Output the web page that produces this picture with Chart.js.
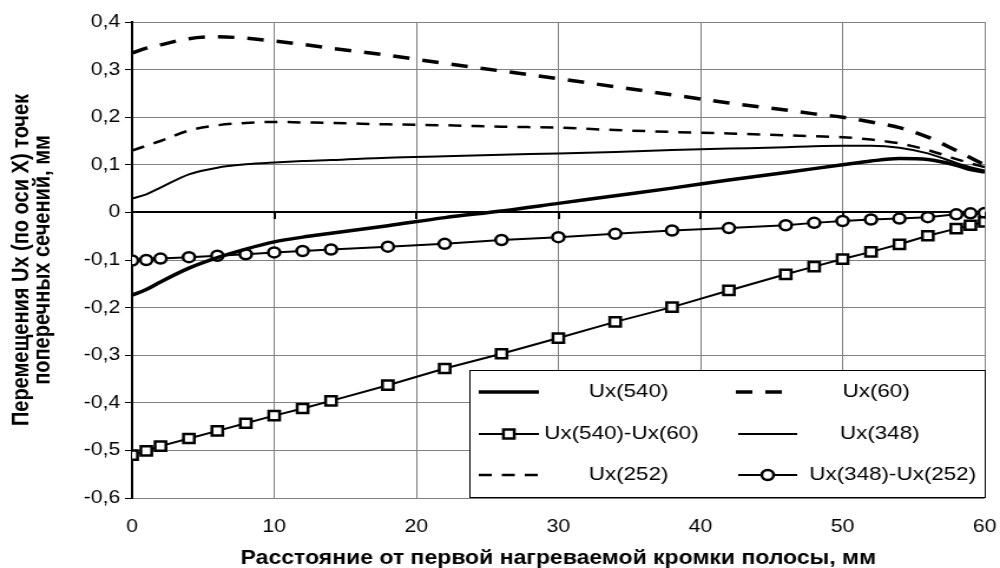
<!DOCTYPE html>
<html>
<head>
<meta charset="utf-8">
<title>Перемещения Ux</title>
<script src="https://cdn.jsdelivr.net/npm/chart.js@4.4.1/dist/chart.umd.min.js"></script>
<style>
  html, body { margin: 0; padding: 0; background: #fff; }
  #wrap { width: 1000px; height: 568px; }
  /* the source picture is stretched sideways, so the canvas is drawn narrower and widened */
  #uxChart { width: 1000px; height: 568px; }
</style>
</head>
<body>
<div id="wrap"><canvas id="uxChart" width="848" height="568" style="width:1000px;height:568px"></canvas></div>
<script>
// x positions of the sections, mm
const xPos = [0, 1, 2, 4, 6, 8, 10, 12, 14, 18, 22, 26, 30, 34, 38, 42, 46, 48, 50, 52, 54, 56, 58, 59, 60];

// Ux values, mm
const ux540 = [-0.174, -0.162, -0.146, -0.117, -0.095, -0.077, -0.062, -0.052, -0.044, -0.028, -0.011, 0.003, 0.019,
  0.035, 0.051, 0.068, 0.084, 0.092, 0.100, 0.108, 0.113, 0.111, 0.099, 0.090, 0.085];
const ux60 = [0.335, 0.345, 0.352, 0.365, 0.369, 0.366, 0.360, 0.353, 0.345, 0.330, 0.313, 0.297, 0.281,
  0.264, 0.247, 0.230, 0.215, 0.207, 0.200, 0.190, 0.178, 0.158, 0.130, 0.115, 0.100];
const diff540_60 = [-0.510, -0.501, -0.491, -0.475, -0.459, -0.443, -0.427, -0.412, -0.396, -0.363, -0.328, -0.297, -0.264,
  -0.230, -0.199, -0.164, -0.130, -0.114, -0.098, -0.083, -0.067, -0.049, -0.034, -0.027, -0.020];
const ux348 = [0.029, 0.038, 0.052, 0.080, 0.094, 0.101, 0.105, 0.108, 0.110, 0.115, 0.118, 0.121, 0.124,
  0.127, 0.131, 0.134, 0.137, 0.139, 0.140, 0.140, 0.136, 0.124, 0.104, 0.095, 0.088];
const ux252 = [0.130, 0.140, 0.150, 0.172, 0.183, 0.188, 0.190, 0.189, 0.188, 0.185, 0.183, 0.180, 0.178,
  0.173, 0.169, 0.166, 0.162, 0.160, 0.158, 0.153, 0.145, 0.131, 0.112, 0.103, 0.095];
const diff348_252 = [-0.101, -0.100, -0.097, -0.094, -0.091, -0.088, -0.084, -0.081, -0.078, -0.072, -0.066, -0.058, -0.052,
  -0.045, -0.038, -0.033, -0.027, -0.022, -0.018, -0.015, -0.013, -0.010, -0.004, -0.002, -0.001];

const seriesLabels = ["Ux(540)", "Ux(60)", "Ux(540)-Ux(60)", "Ux(348)", "Ux(252)", "Ux(348)-Ux(252)"];

const xTitle = "Расстояние от первой нагреваемой кромки полосы, мм";
const yTitle = ["Перемещения Ux (по оси X) точек", "поперечных сечений, мм"];

const FONT = "'Liberation Sans', Arial, sans-serif";

function toPoints(ys) {
  return xPos.map((x, i) => ({ x: x, y: ys[i] }));
}

// zero line with its tick marks (the x axis crosses at 0)
const zeroAxis = {
  id: "zeroAxis",
  beforeDatasetsDraw(chart) {
    const { ctx, chartArea, scales } = chart;
    const y0 = Math.round(scales.y.getPixelForValue(0));
    ctx.save();
    ctx.strokeStyle = "#000";
    ctx.lineWidth = 2;
    ctx.beginPath();
    ctx.moveTo(chartArea.left, y0);
    ctx.lineTo(chartArea.right, y0);
    scales.x.ticks.forEach(t => {
      const px = Math.round(scales.x.getPixelForValue(t.value));
      ctx.moveTo(px, y0);
      ctx.lineTo(px, y0 + 7);
    });
    ctx.stroke();
    ctx.restore();
  }
};

// boxed two-column legend inside the plot (canvas units)
const legendBox = {
  id: "legendBox",
  afterDatasetsDraw(chart) {
    const ctx = chart.ctx;
    const box = { left: 398, top: 370, right: Math.round(chart.chartArea.right), bottom: 497 };
    const cells = [
      { sx: 406, ex: 457, tx: 533, y: 392 },
      { sx: 624, ex: 674, tx: 743, y: 392 },
      { sx: 406, ex: 457, tx: 527, y: 434 },
      { sx: 626, ex: 676, tx: 746, y: 434 },
      { sx: 406, ex: 457, tx: 533, y: 475 },
      { sx: 626, ex: 676, tx: 757, y: 475 }
    ];
    ctx.save();
    ctx.fillStyle = "#fff";
    ctx.fillRect(box.left, box.top, box.right - box.left, box.bottom - box.top);
    ctx.strokeStyle = "#000";
    ctx.lineWidth = 1;
    ctx.strokeRect(box.left + 0.5, box.top + 0.5, box.right - box.left, box.bottom - box.top);

    chart.data.datasets.forEach((ds, i) => {
      const c = cells[i];
      ctx.strokeStyle = "#000";
      ctx.lineWidth = ds.borderWidth;
      ctx.setLineDash(ds.borderDash || []);
      ctx.beginPath();
      ctx.moveTo(c.sx, c.y);
      ctx.lineTo(c.ex, c.y);
      ctx.stroke();
      ctx.setLineDash([]);
      if (ds.pointRadius > 0) {
        const mx = (c.sx + c.ex) / 2;
        ctx.fillStyle = "#fff";
        ctx.lineWidth = ds.pointBorderWidth;
        ctx.beginPath();
        if (ds.pointStyle === "rect") {
          const s = ds.pointRadius * Math.SQRT1_2;
          ctx.rect(mx - s, c.y - s, 2 * s, 2 * s);
        } else {
          ctx.arc(mx, c.y, ds.pointRadius, 0, Math.PI * 2);
        }
        ctx.fill();
        ctx.stroke();
      }
      ctx.fillStyle = "#000";
      ctx.font = "19px " + FONT;
      ctx.textAlign = "center";
      ctx.textBaseline = "middle";
      ctx.fillText(ds.label, c.tx, c.y);
    });
    ctx.restore();
  }
};

const smoothLine = (label, ys, width, dash) => ({
  label: label,
  data: toPoints(ys),
  borderColor: "#000",
  borderWidth: width,
  borderDash: dash,
  pointRadius: 0,
  pointHoverRadius: 0,
  cubicInterpolationMode: "monotone",
  fill: false
});

const markerLine = (label, ys, style, radius) => ({
  label: label,
  data: toPoints(ys),
  borderColor: "#000",
  borderWidth: 2,
  borderDash: [],
  pointStyle: style,
  pointRadius: radius,
  pointHoverRadius: radius,
  pointBorderWidth: 2.5,
  pointBorderColor: "#000",
  pointBackgroundColor: "#fff",
  tension: 0,
  fill: false
});

const canvas = document.getElementById("uxChart");

const chart = new Chart(canvas, {
  type: "line",
  data: {
    datasets: [
      smoothLine(seriesLabels[0], ux540, 3.5, []),
      smoothLine(seriesLabels[1], ux60, 3.5, [14, 11]),
      markerLine(seriesLabels[2], diff540_60, "rect", 6.5),
      smoothLine(seriesLabels[3], ux348, 2, []),
      smoothLine(seriesLabels[4], ux252, 2.5, [11, 8.5]),
      markerLine(seriesLabels[5], diff348_252, "circle", 5)
    ]
  },
  options: {
    responsive: false,
    animation: false,
    devicePixelRatio: 1,
    layout: { padding: { left: 0, right: 13, top: 22, bottom: 0 } },
    plugins: {
      legend: { display: false },
      tooltip: { enabled: false }
    },
    scales: {
      x: {
        type: "linear",
        min: 0,
        max: 60,
        ticks: {
          stepSize: 10,
          color: "#000",
          font: { family: FONT, size: 18 },
          padding: 18,
          maxRotation: 0
        },
        grid: { color: "#808080", lineWidth: 1, drawTicks: false },
        border: { display: false },
        title: {
          display: true,
          text: xTitle,
          color: "#000",
          font: { family: FONT, size: 19.5, weight: "bold" },
          padding: { top: 0, bottom: -2 }
        },
        afterFit(scale) {
          scale.height = 70;
          scale.paddingLeft = 0;
          scale.paddingRight = 0;
        }
      },
      y: {
        type: "linear",
        min: -0.6,
        max: 0.4,
        ticks: {
          stepSize: 0.1,
          color: "#000",
          font: { family: FONT, size: 18 },
          padding: 4,
          callback: v => {
            const r = Math.round(v * 10) / 10;
            return r === 0 ? "0" : r.toFixed(1).replace(".", ",");
          }
        },
        grid: { color: "#808080", lineWidth: 1, drawTicks: true, tickLength: 6, tickColor: "#000" },
        border: { display: true, color: "#000", width: 2 },
        title: {
          display: true,
          text: yTitle,
          color: "#000",
          font: { family: FONT, size: 20, weight: "bold", lineHeight: "18px" },
          padding: { top: 9, bottom: 0 }
        },
        afterFit(scale) {
          scale.width = 112;
          scale.paddingTop = 0;
          scale.paddingBottom = 0;
        }
      }
    }
  },
  plugins: [zeroAxis, legendBox]
});

canvas.style.width = "1000px";
canvas.style.height = "568px";
</script>
</body>
</html>
